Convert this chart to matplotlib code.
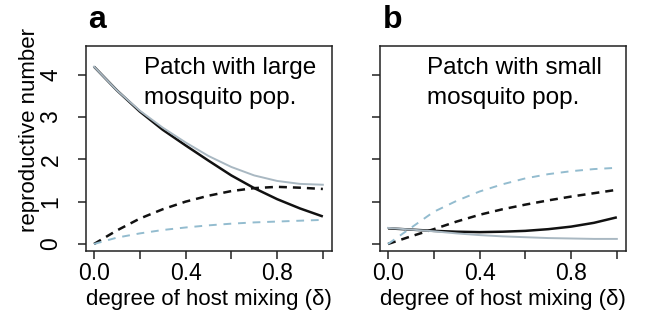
import numpy as np
import matplotlib.pyplot as plt

plt.rcParams['font.family'] = ['Liberation Sans', 'DejaVu Sans']

# degree of host mixing
delta = [0.0, 0.1, 0.2, 0.3, 0.4, 0.5, 0.6, 0.7, 0.8, 0.9, 1.0]

# panel a: patch with large mosquito population
a_black_solid = [4.19, 3.63, 3.13, 2.70, 2.33, 1.97, 1.62, 1.32, 1.06, 0.84, 0.65]
a_black_dash = [0.0, 0.32, 0.60, 0.82, 1.00, 1.14, 1.25, 1.32, 1.35, 1.33, 1.30]
a_grey_solid = [4.19, 3.63, 3.15, 2.75, 2.40, 2.08, 1.82, 1.62, 1.49, 1.42, 1.40]
a_blue_dash = [0.0, 0.15, 0.25, 0.33, 0.39, 0.44, 0.48, 0.51, 0.53, 0.55, 0.57]

# panel b: patch with small mosquito population
b_black_solid = [0.37, 0.34, 0.31, 0.29, 0.28, 0.29, 0.31, 0.35, 0.41, 0.50, 0.63]
b_black_dash = [0.0, 0.18, 0.35, 0.53, 0.69, 0.82, 0.93, 1.03, 1.12, 1.20, 1.28]
b_grey_solid = [0.38, 0.34, 0.30, 0.25, 0.21, 0.18, 0.16, 0.14, 0.13, 0.12, 0.12]
b_blue_dash = [0.0, 0.38, 0.76, 1.02, 1.24, 1.41, 1.55, 1.65, 1.72, 1.77, 1.80]

xticks = [0.0, 0.2, 0.4, 0.6, 0.8, 1.0]
xticklabels = ["0.0", "", "0.4", "", "0.8", ""]
yticks = [0, 1, 2, 3, 4]

grey = '#a9b8c2'
lightblue = '#93bccf'
black = '#111111'

fig = plt.figure(figsize=(6.57, 3.11), dpi=100)
W, H = 657, 311


def px_axes(left, top, right, bottom):
    return fig.add_axes([left / W, 1 - bottom / H, (right - left) / W, (bottom - top) / H])


ax_a = px_axes(86, 45.5, 332, 250.5)
ax_b = px_axes(380, 45.5, 626, 250.5)

panels = [
    (ax_a, a_black_solid, a_black_dash, a_grey_solid, a_blue_dash, "a", ["Patch with large", "mosquito pop."], 0.236),
    (ax_b, b_black_solid, b_black_dash, b_grey_solid, b_blue_dash, "b", ["Patch with small", "mosquito pop."], 0.191),
]

for ax, bs, bd, gs, ld, letter, txt, tx in panels:
    ax.plot(delta, bs, color=black, lw=1.8, solid_capstyle='butt')
    ax.plot(delta, bd, color=black, lw=1.8, dashes=(3.2, 2.4))
    ax.plot(delta, gs, color=grey, lw=1.4)
    ax.plot(delta, ld, color=lightblue, lw=1.4, dashes=(4.0, 3.5))

    ax.set_xlim(-0.035, 1.04)
    ax.set_ylim(-0.154, 4.69)
    ax.set_xticks(xticks)
    ax.set_xticklabels(xticklabels, fontsize=16.5)
    ax.set_yticks(yticks)
    for s in ax.spines.values():
        s.set_linewidth(1.1)
        s.set_color('#222222')
    ax.tick_params(axis='both', length=6, width=1.1, color='#222222', labelsize=16.5)
    ax.tick_params(axis='x', pad=2.5)

    ax.set_xlabel("degree of host mixing (δ)", fontsize=16)
    ax.xaxis.label.set_va('center')
    ax.xaxis.set_label_coords(0.5, -0.238)

    ax.text(tx, 0.859, txt[0], transform=ax.transAxes, fontsize=17.5, va='baseline', ha='left')
    ax.text(tx, 0.717, txt[1], transform=ax.transAxes, fontsize=17.5, va='baseline', ha='left')
    ax.text(0.01, 1.085, letter, transform=ax.transAxes, fontsize=23, fontweight='bold',
            va='baseline', ha='left')

ax_a.set_yticklabels([str(v) for v in yticks], rotation=90, va='center')
ax_a.tick_params(axis='y', pad=11)
ax_b.set_yticklabels([])

fig.text(30 / W, 1 - 130 / H, "reproductive number", rotation=90, fontsize=16,
         ha='center', va='center')

fig.savefig("out.png", dpi=100)
